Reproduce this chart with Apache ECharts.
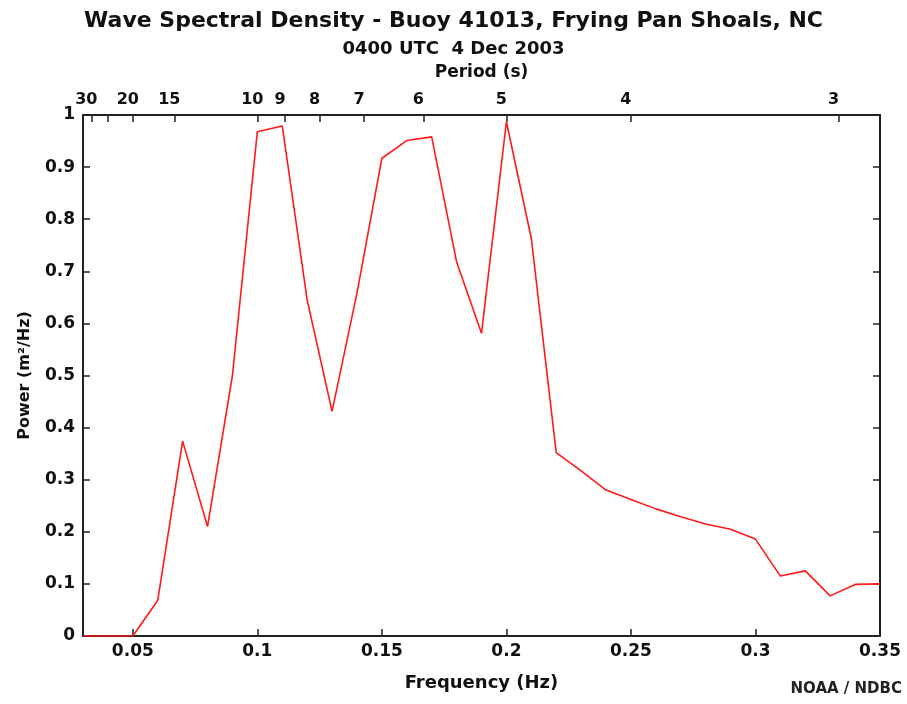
<!DOCTYPE html>
<html>
<head>
<meta charset="utf-8">
<script src="https://cdn.jsdelivr.net/npm/echarts@6/dist/echarts.min.js"></script>
<style>
  html, body { margin: 0; padding: 0; background: #fff; }
  #chart { width: 907px; height: 704px; }
</style>
</head>
<body>
<div id="chart"></div>
<script>
// frequency bins (Hz) and spectral density (m^2/Hz)
var freqs = [0.03, 0.04, 0.05, 0.06, 0.07, 0.08, 0.09, 0.10, 0.11, 0.12, 0.13,
  0.14, 0.15, 0.16, 0.17, 0.18, 0.19, 0.20, 0.21, 0.22, 0.23, 0.24, 0.25,
  0.26, 0.27, 0.28, 0.29, 0.30, 0.31, 0.32, 0.33, 0.34, 0.35];
var power = [0, 0, 0, 0.068, 0.374, 0.21, 0.50, 0.968, 0.979, 0.645, 0.431,
  0.658, 0.917, 0.951, 0.958, 0.718, 0.581, 0.987, 0.763, 0.352, 0.317, 0.28, 0.262,
  0.244, 0.229, 0.215, 0.205, 0.186, 0.115, 0.125, 0.077, 0.099, 0.1];

// bottom axis tick labels (Hz)
var freqTicks = [0.05, 0.1, 0.15, 0.2, 0.25, 0.3, 0.35];
// top axis: periods (s) with ticks, and the ones that get a label
var periodTicks = [30, 25, 20, 15, 10, 9, 8, 7, 6, 5, 4, 3];
var periodLabels = [30, 20, 15, 10, 9, 8, 7, 6, 5, 4, 3];

var FONT = 'DejaVu Sans';
var AXIS_COLOR = '#222';

var chart = echarts.init(document.getElementById('chart'));

var option = {
  backgroundColor: '#fff',
  animation: false,
  textStyle: { fontFamily: FONT },
  title: [
    {
      text: 'Wave Spectral Density - Buoy 41013, Frying Pan Shoals, NC',
      left: 'center',
      top: 5,
      textStyle: { fontFamily: FONT, fontSize: 22, fontWeight: 'bold', color: '#111' }
    },
    {
      text: '0400 UTC  4 Dec 2003',
      left: 'center',
      top: 35,
      textStyle: { fontFamily: FONT, fontSize: 18, fontWeight: 'bold', color: '#111' }
    }
  ],
  graphic: [
    {
      type: 'text',
      right: 5,
      top: 682,
      style: { text: 'NOAA / NDBC', font: 'bold 15px "DejaVu Sans"', fill: '#222' }
    }
  ],
  grid: { left: 83, right: 27, top: 115, bottom: 68 },
  xAxis: [
    {
      type: 'value',
      position: 'bottom',
      min: 0.03,
      max: 0.35,
      name: 'Frequency (Hz)',
      nameLocation: 'middle',
      nameGap: 38,
      nameTextStyle: { fontFamily: FONT, fontSize: 18, fontWeight: 'bold', color: '#111' },
      axisLine: { show: true, onZero: false, lineStyle: { color: AXIS_COLOR, width: 2 } },
      axisTick: { show: true, inside: true, length: 7, customValues: freqTicks, lineStyle: { color: AXIS_COLOR, width: 1.5 } },
      axisLabel: {
        customValues: freqTicks,
        margin: 7,
        fontFamily: FONT, fontSize: 17, fontWeight: 'bold', color: '#111',
        formatter: function (v) { return String(+v.toFixed(2)); }
      },
      splitLine: { show: false }
    },
    {
      type: 'value',
      position: 'top',
      min: 0.03,
      max: 0.35,
      name: 'Period (s)',
      nameLocation: 'middle',
      nameGap: 34,
      nameTextStyle: { fontFamily: FONT, fontSize: 17, fontWeight: 'bold', color: '#111' },
      axisLine: { show: true, onZero: false, lineStyle: { color: AXIS_COLOR, width: 2 } },
      axisTick: {
        show: true, inside: true, length: 7,
        customValues: periodTicks.map(function (p) { return 1 / p; }),
        lineStyle: { color: AXIS_COLOR, width: 1.5 }
      },
      axisLabel: {
        customValues: periodLabels.map(function (p) { return 1 / p; }),
        margin: 7,
        padding: [0, 10, 0, 0],
        fontFamily: FONT, fontSize: 16, fontWeight: 'bold', color: '#111',
        formatter: function (v) { return String(Math.round(1 / v)); }
      },
      splitLine: { show: false }
    }
  ],
  yAxis: [
    {
      type: 'value',
      position: 'left',
      min: 0,
      max: 1,
      interval: 0.1,
      name: 'Power (m²/Hz)',
      nameLocation: 'middle',
      nameGap: 50,
      nameTextStyle: { fontFamily: FONT, fontSize: 16, fontWeight: 'bold', color: '#111' },
      axisLine: { show: true, onZero: false, lineStyle: { color: AXIS_COLOR, width: 2 } },
      axisTick: { show: true, inside: true, length: 7, lineStyle: { color: AXIS_COLOR, width: 1.5 } },
      axisLabel: {
        margin: 8,
        fontFamily: FONT, fontSize: 17, fontWeight: 'bold', color: '#111',
        formatter: function (v) { return String(+v.toFixed(1)); }
      },
      splitLine: { show: false }
    },
    {
      type: 'value',
      position: 'right',
      min: 0,
      max: 1,
      interval: 0.1,
      axisLine: { show: true, onZero: false, lineStyle: { color: AXIS_COLOR, width: 2 } },
      axisTick: { show: true, inside: true, length: 7, lineStyle: { color: AXIS_COLOR, width: 1.5 } },
      axisLabel: { show: false },
      splitLine: { show: false }
    }
  ],
  series: [
    {
      name: 'Power',
      type: 'line',
      xAxisIndex: 0,
      yAxisIndex: 0,
      symbol: 'none',
      lineStyle: { color: '#ff1a1a', width: 1.6 },
      data: freqs.map(function (f, i) { return [f, power[i]]; })
    }
  ]
};

chart.setOption(option);
</script>
</body>
</html>
